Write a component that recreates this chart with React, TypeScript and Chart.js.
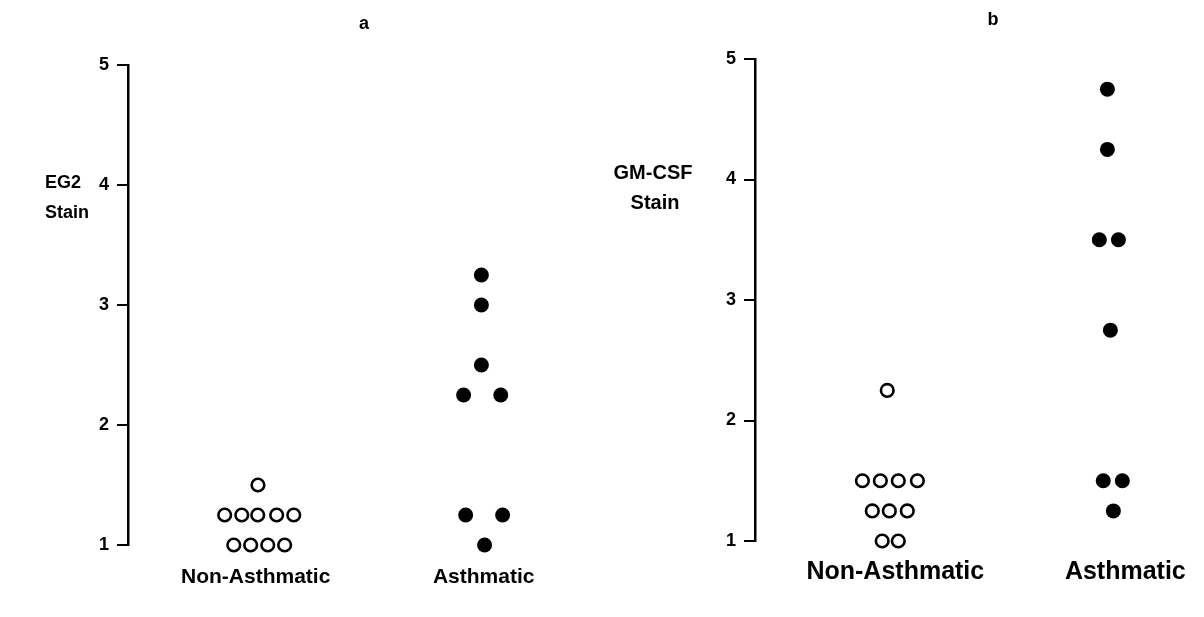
import React, { useEffect, useRef } from "react";
import { Chart, registerables } from "chart.js";

Chart.register(...registerables);

const categories = ["Non-Asthmatic", "Asthmatic"];
const yTickValues = [1, 2, 3, 4, 5];

// Panel a (EG2 Stain)
const eg2NonAsthmaticX = [1.01, 0.864, 0.939, 1.009, 1.092, 1.167, 0.904, 0.978, 1.053, 1.127];
const eg2NonAsthmaticY = [1.5, 1.25, 1.25, 1.25, 1.25, 1.25, 1.0, 1.0, 1.0, 1.0];
const eg2AsthmaticX = [1.99, 1.99, 1.99, 1.912, 2.075, 1.921, 2.083, 2.004];
const eg2AsthmaticY = [3.25, 3.0, 2.5, 2.25, 2.25, 1.25, 1.25, 1.0];

// Panel b (GM-CSF Stain)
const gmNonAsthmaticX = [0.965, 0.857, 0.935, 1.013, 1.096, 0.9, 0.974, 1.052, 0.943, 1.013];
const gmNonAsthmaticY = [2.25, 1.5, 1.5, 1.5, 1.5, 1.25, 1.25, 1.25, 1.0, 1.0];
const gmAsthmaticX = [1.922, 1.922, 1.887, 1.97, 1.935, 1.904, 1.987, 1.948];
const gmAsthmaticY = [4.75, 4.25, 3.5, 3.5, 2.75, 1.5, 1.5, 1.25];

const FONT = "'Liberation Sans', Arial, sans-serif";

const zip = (xs: number[], ys: number[]) => xs.map((x, i) => ({ x, y: ys[i] }));

type TextItem = { text: string; x: number; y: number; align: CanvasTextAlign; size: number };

type PanelSpec = {
  openX: number[];
  openY: number[];
  filledX: number[];
  filledY: number[];
  axisLeft: number;
  top: number;
  bottom: number;
  xMin: number;
  xMax: number;
  xLabelPad: number;
  xLabelSize: number;
  tickSize: number;
  texts: TextItem[];
};

const textPlugin = {
  id: "panelTexts",
  afterDraw(chart: any, _args: any, opts: any) {
    const ctx = chart.ctx;
    ctx.save();
    ctx.fillStyle = "#000";
    ctx.textBaseline = "middle";
    (opts.items || []).forEach((t: TextItem) => {
      ctx.font = `bold ${t.size}px ${FONT}`;
      ctx.textAlign = t.align;
      ctx.fillText(t.text, t.x, t.y);
    });
    ctx.restore();
  },
};

function makeConfig(p: PanelSpec): any {
  return {
    type: "scatter",
    data: {
      datasets: [
        {
          data: zip(p.openX, p.openY),
          pointRadius: 6.3,
          pointBorderWidth: 2.6,
          pointBorderColor: "#000",
          pointBackgroundColor: "#fff",
          clip: false,
        },
        {
          data: zip(p.filledX, p.filledY),
          pointRadius: 7.5,
          pointBorderWidth: 0,
          pointBorderColor: "#000",
          pointBackgroundColor: "#000",
          clip: false,
        },
      ],
    },
    options: {
      animation: false,
      responsive: false,
      layout: { autoPadding: false, padding: { top: p.top, left: 0, right: 0, bottom: 0 } },
      plugins: {
        legend: { display: false },
        tooltip: { enabled: false },
        panelTexts: { items: p.texts },
      },
      scales: {
        x: {
          type: "linear",
          min: p.xMin,
          max: p.xMax,
          grid: { display: false, drawTicks: false },
          border: { display: false },
          afterBuildTicks: (s: any) => {
            s.ticks = categories.map((_, i) => ({ value: i + 1 }));
          },
          ticks: {
            autoSkip: false,
            maxRotation: 0,
            padding: p.xLabelPad,
            color: "#000",
            font: { family: FONT, size: p.xLabelSize, weight: "bold" },
            callback: (_v: any, i: number) => categories[i],
          },
          afterFit: (s: any) => {
            s.height = 617 - p.bottom;
          },
        },
        y: {
          min: 1,
          max: 5,
          afterBuildTicks: (s: any) => {
            s.ticks = yTickValues.map((v) => ({ value: v }));
          },
          ticks: {
            padding: 8,
            color: "#000",
            font: { family: FONT, size: p.tickSize, weight: "bold" },
          },
          grid: { drawOnChartArea: false, tickLength: 11, color: "#000", lineWidth: 2 },
          border: { color: "#000", width: 2.5 },
          afterFit: (s: any) => {
            s.width = p.axisLeft;
          },
        },
      },
    },
    plugins: [textPlugin],
  };
}

const panelA: PanelSpec = {
  openX: eg2NonAsthmaticX,
  openY: eg2NonAsthmaticY,
  filledX: eg2AsthmaticX,
  filledY: eg2AsthmaticY,
  axisLeft: 128,
  top: 65,
  bottom: 545,
  xMin: 0.44,
  xMax: 2.519,
  xLabelPad: 20,
  xLabelSize: 21,
  tickSize: 18,
  texts: [
    { text: "a", x: 364, y: 24, align: "center", size: 18 },
    { text: "EG2", x: 45, y: 183, align: "left", size: 18 },
    { text: "Stain", x: 45, y: 213, align: "left", size: 18 },
  ],
};

const panelB: PanelSpec = {
  openX: gmNonAsthmaticX,
  openY: gmNonAsthmaticY,
  filledX: gmAsthmaticX,
  filledY: gmAsthmaticY,
  axisLeft: 153,
  top: 59,
  bottom: 541,
  xMin: 0.39,
  xMax: 2.342,
  xLabelPad: 16,
  xLabelSize: 25,
  tickSize: 18,
  texts: [
    { text: "b", x: 391, y: 20, align: "center", size: 18 },
    { text: "GM-CSF", x: 51, y: 173, align: "center", size: 20 },
    { text: "Stain", x: 53, y: 203, align: "center", size: 20 },
  ],
};

function Panel({ spec, left }: { spec: PanelSpec; left: number }) {
  const ref = useRef<HTMLCanvasElement | null>(null);
  useEffect(() => {
    if (!ref.current) return;
    const chart = new Chart(ref.current, makeConfig(spec));
    return () => chart.destroy();
  }, [spec]);
  return (
    <canvas
      ref={ref}
      width={602}
      height={617}
      style={{ position: "absolute", left, top: 0, width: 602, height: 617 }}
    />
  );
}

export default function App() {
  return (
    <div
      style={{
        position: "fixed",
        left: 0,
        top: 0,
        width: 1204,
        height: 617,
        background: "#fff",
        overflow: "hidden",
      }}
    >
      <Panel spec={panelA} left={0} />
      <Panel spec={panelB} left={602} />
    </div>
  );
}
